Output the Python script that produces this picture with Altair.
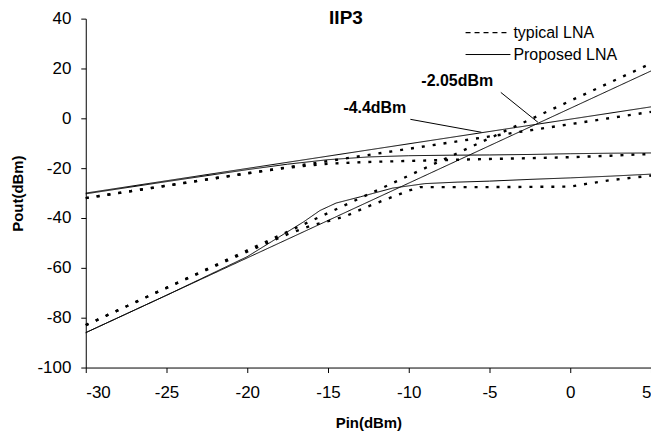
import altair as alt
import pandas as pd

FONT = "Liberation Sans Narrow, Arial Narrow, Liberation Sans, Arial, sans-serif"

# ---- data (Pin in dBm -> Pout in dBm) ----
x_ticks = [-30, -25, -20, -15, -10, -5, 0, 5]
y_ticks = [-100, -80, -60, -40, -20, 0, 20, 40]

series_kind = ["typical LNA", "Proposed LNA"]

# fundamental, proposed LNA: extrapolated line and simulated curve
fund_prop_fit_x = [-30, 5]
fund_prop_fit_y = [-30.0, 4.6]
fund_prop_x = [-30, -25, -20, -17.5, -15, -12.5, -10, -7.5, -5, -2.5, 0, 2.5, 5]
fund_prop_y = [-30.3, -25.4, -20.6, -18.4, -16.6, -15.5, -15.0, -14.8, -14.7, -14.5, -14.2, -14.0, -13.9]

# fundamental, typical LNA
fund_typ_fit_x = [-30, 5]
fund_typ_fit_y = [-32.0, 2.6]
fund_typ_x = [-30, -25, -20, -17.5, -15, -12.5, -10, -7.5, -5, -2.5, 0, 2.5, 5]
fund_typ_y = [-32.0, -27.0, -22.0, -19.8, -18.2, -17.5, -17.1, -16.7, -16.3, -16.0, -15.6, -15.0, -14.3]

# third-order intermod, proposed LNA
im3_prop_fit_x = [-30, 5]
im3_prop_fit_y = [-86.0, 19.0]
im3_prop_x = [-30, -25, -20, -18.5, -16.5, -15.5, -14.5, -13, -11, -9, -7, -5, -2.5, 0, 2.5, 5]
im3_prop_y = [-86, -71, -55.5, -49.5, -41.5, -37, -34, -31.5, -28, -26.2, -25.6, -25.2, -24.5, -23.9, -23.2, -22.4]

# third-order intermod, typical LNA
im3_typ_fit_x = [-30, 5]
im3_typ_fit_y = [-83.0, 22.0]
im3_typ_x = [-30, -25, -20, -17.5, -16, -14, -12.5, -11, -10, -9.3, -5, 0, 1, 2.5, 5]
im3_typ_y = [-83, -68, -53.5, -46.5, -43, -39.5, -35.3, -31.5, -29, -27.6, -27.6, -27.4, -26.3, -24.8, -23]

# annotations
ann_labels = ["-2.05dBm", "-4.4dBm"]
ann_text_x = [-7.0, -12.1]
ann_text_y = [14.8, 4.2]
ann_x1 = [-4.3, -9.9]
ann_y1 = [10.4, -0.4]
ann_x2 = [-2.0, -5.5]
ann_y2 = [-1.6, -5.6]

chart_title = "IIP3"

curves = [
    ("fund_prop_fit", series_kind[1], fund_prop_fit_x, fund_prop_fit_y),
    ("fund_prop", series_kind[1], fund_prop_x, fund_prop_y),
    ("fund_typ_fit", series_kind[0], fund_typ_fit_x, fund_typ_fit_y),
    ("fund_typ", series_kind[0], fund_typ_x, fund_typ_y),
    ("im3_prop_fit", series_kind[1], im3_prop_fit_x, im3_prop_fit_y),
    ("im3_prop", series_kind[1], im3_prop_x, im3_prop_y),
    ("im3_typ_fit", series_kind[0], im3_typ_fit_x, im3_typ_fit_y),
    ("im3_typ", series_kind[0], im3_typ_x, im3_typ_y),
]
rows = []
for cid, kind, xs, ys in curves:
    for i, (a, b) in enumerate(zip(xs, ys)):
        rows.append({"curve": cid, "kind": kind, "pin": a, "pout": b, "i": i})
df = pd.DataFrame(rows)

ann_df = pd.DataFrame({"label": ann_labels, "tx": ann_text_x, "ty": ann_text_y,
                       "x1": ann_x1, "y1": ann_y1, "x2": ann_x2, "y2": ann_y2})

x_scale = alt.Scale(domain=[-30, 5], nice=False, zero=False)
y_scale = alt.Scale(domain=[-100, 40], nice=False, zero=False)

x_axis = alt.Axis(title="Pin(dBm)", values=x_ticks, labelExpr="'' + datum.value",
                  labelPadding=12, titlePadding=15)
y_axis = alt.Axis(title="Pout(dBm)", values=y_ticks, labelExpr="'' + datum.value",
                  labelPadding=10, titleX=-68, titleY=175, titleAngle=270,
                  titleAlign="center", titleBaseline="middle")

lines = alt.Chart(df).mark_line(color="black").encode(
    x=alt.X("pin:Q", scale=x_scale, axis=x_axis),
    y=alt.Y("pout:Q", scale=y_scale, axis=y_axis),
    detail="curve:N",
    order="i:Q",
    strokeDash=alt.StrokeDash("kind:N", legend=None,
                              scale=alt.Scale(domain=series_kind, range=[[3, 8], [1, 0]])),
    strokeWidth=alt.StrokeWidth("kind:N", legend=None,
                                scale=alt.Scale(domain=series_kind, range=[2.4, 1.0])),
)

pointers = alt.Chart(ann_df).mark_rule(color="black", strokeWidth=1).encode(
    x=alt.X("x1:Q", scale=x_scale), y=alt.Y("y1:Q", scale=y_scale),
    x2="x2:Q", y2="y2:Q",
)
ann_text = alt.Chart(ann_df).mark_text(font=FONT, fontSize=16, fontWeight="bold",
                                       color="black").encode(
    x=alt.X("tx:Q", scale=x_scale), y=alt.Y("ty:Q", scale=y_scale), text="label:N",
)

title_df = pd.DataFrame({"t": [chart_title]})
title_mark = alt.Chart(title_df).mark_text(font=FONT, fontSize=19, fontWeight="bold",
                                           baseline="alphabetic", color="black").encode(
    x=alt.value(261), y=alt.value(5), text="t:N")

leg0 = pd.DataFrame({"n": [series_kind[0]]})
leg1 = pd.DataFrame({"n": [series_kind[1]]})
leg_rule0 = alt.Chart(leg0).mark_rule(color="black", strokeWidth=1.2, strokeDash=[5, 4]).encode(
    x=alt.value(381), x2=alt.value(426), y=alt.value(14))
leg_rule1 = alt.Chart(leg1).mark_rule(color="black", strokeWidth=1).encode(
    x=alt.value(381), x2=alt.value(426), y=alt.value(36))
leg_text0 = alt.Chart(leg0).mark_text(font=FONT, fontSize=16, align="left", baseline="middle",
                                      color="black").encode(
    x=alt.value(429), y=alt.value(14), text="n:N")
leg_text1 = alt.Chart(leg1).mark_text(font=FONT, fontSize=16, align="left", baseline="middle",
                                      color="black").encode(
    x=alt.value(429), y=alt.value(36), text="n:N")

chart = alt.layer(
    lines, pointers, ann_text, title_mark, leg_rule0, leg_rule1, leg_text0, leg_text1
).properties(
    width=567, height=350,
    autosize=alt.AutoSizeParams(type="none"),
    padding={"left": 78, "top": 10, "right": 0, "bottom": 68},
    background="white",
).configure_view(stroke=None).configure_axis(
    grid=False, domainColor="black", tickColor="black", tickSize=5,
    labelColor="black", labelFont=FONT, labelFontSize=17,
    titleColor="black", titleFont=FONT, titleFontSize=15, titleFontWeight="bold",
)

chart.save("out.html", embed_options={"renderer": "svg", "actions": False})
